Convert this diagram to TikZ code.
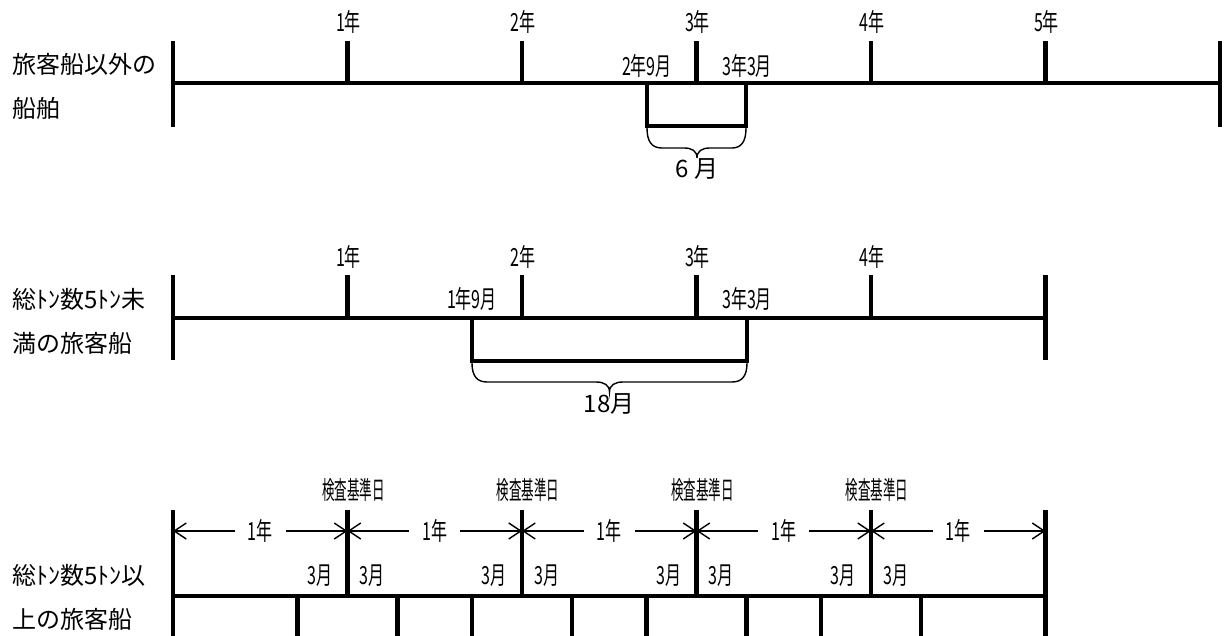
\documentclass[tikz,border=0pt]{standalone}
\usepackage{fontspec}
\usetikzlibrary{arrows.meta,calc}
\newfontfamily\jpn{Noto Sans CJK JP}
\newfontfamily\jpnn[FakeStretch=0.64]{Noto Sans CJK JP}
\newfontfamily\jpnk[FakeStretch=0.5]{Noto Sans CJK JP}

\tikzset{
  axis/.style={line width=4.4pt,line join=miter},
  spanline/.style={line width=1.4pt},
  yrarrow/.style={line width=1.4pt,-{Straight Barb[length=12pt,width=16pt]}},
  rowlab/.style={anchor=west,align=left,inner sep=0pt,font=\jpn\fontsize{24}{44}\selectfont},
  ticklab/.style={inner sep=0pt,font=\jpnn\fontsize{25}{28}\selectfont},
  seglab/.style={ticklab,inner xsep=13pt},
  kijun/.style={inner sep=0pt,font=\jpnk\fontsize{25}{28}\selectfont},
  spanlab/.style={inner sep=0pt,font=\jpn\fontsize{24}{28}\selectfont},
}

\begin{document}
\begin{tikzpicture}[x=1pt,y=-1pt]
\useasboundingbox (0,0) rectangle (1225,636);

% other ships
\node[rowlab] (r1) at (12,86) {旅客船以外の\\船舶};
\foreach \i/\x in {0/173,1/347.5,2/522,3/696.5,4/871,5/1045.5,6/1220}{\coordinate (a\i) at (\x,83);}
\draw[axis] (a0) -- (a6);
\draw[axis] ($(a0)+(0,-42)$) -- ($(a0)+(0,44)$);
\draw[axis] ($(a6)+(0,-42)$) -- ($(a6)+(0,44)$);
\foreach \i in {1,...,5}{
  \draw[axis] (a\i) -- ++(0,-42);
  \node[ticklab] (ya\i) at ($(a\i)+(1,-61)$) {\i 年};
}
\coordinate (p1) at (647,83);
\coordinate (p2) at (746,83);
\draw[axis] (p1) -- ++(0,43) -| (p2);
\node[ticklab,anchor=east] (pa1) at (672,66) {2年9月};
\node[ticklab,anchor=west] (pa2) at (722,66) {3年3月};
\draw[spanline] (647,128) .. controls (647,142) and (652,148) .. (662,148) -- (684,148)
  .. controls (692,148) and (697,151) .. (697,158) .. controls (697,151) and (702,148) .. (710,148)
  -- (732,148) .. controls (741,148) and (746,142) .. (746,128);
\node[spanlab] (sa) at (697,169) {6 月};

% under 5 tons
\node[rowlab] (r2) at (12,321) {総ﾄﾝ数5ﾄﾝ未\\満の旅客船};
\foreach \i/\x in {0/173,1/347.5,2/522,3/696.5,4/871,5/1045.5}{\coordinate (b\i) at (\x,318);}
\draw[axis] (b0) -- (b5);
\draw[axis] ($(b0)+(0,-43)$) -- ($(b0)+(0,42)$);
\draw[axis] ($(b5)+(0,-43)$) -- ($(b5)+(0,42)$);
\foreach \i in {1,...,4}{
  \draw[axis] (b\i) -- ++(0,-43);
  \node[ticklab] (yb\i) at ($(b\i)+(1,-61)$) {\i 年};
}
\coordinate (q1) at (472,318);
\coordinate (q2) at (747,318);
\draw[axis] (q1) -- ++(0,43) -| (q2);
\node[ticklab,anchor=east] (pb1) at (497,299) {1年9月};
\node[ticklab,anchor=west] (pb2) at (722,299) {3年3月};
\draw[spanline] (472,363) .. controls (472,376) and (477,382) .. (487,382) -- (596,382)
  .. controls (604,382) and (609.5,385) .. (609.5,392) .. controls (609.5,385) and (615,382) .. (623,382)
  -- (732,382) .. controls (742,382) and (747,376) .. (747,363);
\node[spanlab] (sb) at (609,404) {18月};

% 5 tons and over
\node[rowlab] (r3) at (12,597) {総ﾄﾝ数5ﾄﾝ以\\上の旅客船};
\foreach \i/\x in {0/173,1/347.5,2/522,3/696.5,4/871,5/1045.5}{
  \coordinate (k\i) at (\x,531);
  \coordinate (e\i) at (\x,596);
}
\draw[axis] (e0) -- (e5);
\draw[axis] ($(e0)+(0,-86)$) -- ($(e0)+(0,42)$);
\draw[axis] ($(e5)+(0,-86)$) -- ($(e5)+(0,42)$);
\foreach \i in {1,...,4}{
  \draw[axis] (e\i) -- ++(0,-86);
  \draw[axis] ($(e\i)+(-50,0)$) -- ++(0,42);
  \draw[axis] ($(e\i)+(50,0)$) -- ++(0,42);
  \node[kijun] (kj\i) at ($(e\i)+(6,-106)$) {検査基準日};
  \node[ticklab,anchor=east] (ml\i) at ($(e\i)+(-15,-20)$) {3月};
  \node[ticklab,anchor=west] (mr\i) at ($(e\i)+(12,-20)$) {3月};
}
\foreach \i in {0,...,4}{
  \pgfmathtruncatemacro\j{\i+1}
  \node[seglab] (s\i) at ($(k\i)!0.5!(k\j)$) {1年};
  \draw[yrarrow] (s\i.west) -- (k\i);
  \draw[yrarrow] (s\i.east) -- (k\j);
}
\end{tikzpicture}
\end{document}
